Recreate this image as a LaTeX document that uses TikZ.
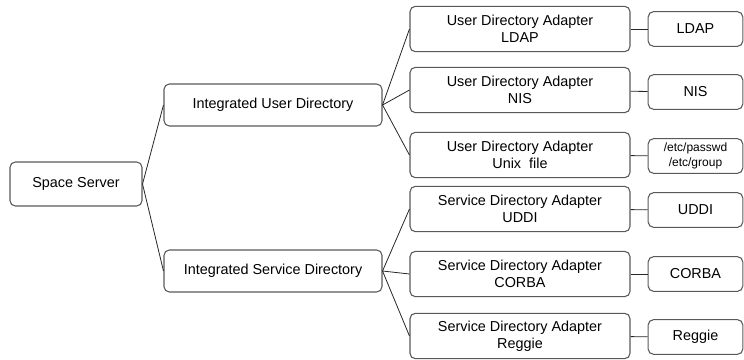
\documentclass[tikz,border=0pt]{standalone}
\usepackage{fontspec}
\setmainfont{Liberation Sans}
\begin{document}
\begin{tikzpicture}[
    x=0.75pt, y=-0.75pt,
    every node/.style={font=\fontsize{10.8}{13}\selectfont},
    rootbox/.style={draw=black!65, rounded corners=4pt, line width=0.8pt, minimum width=99pt, minimum height=33pt, align=center, inner sep=1pt},
    dirbox/.style={draw=black!65, rounded corners=4pt, line width=0.8pt, minimum width=163.5pt, minimum height=31.5pt, align=center, inner sep=1pt},
    adapterbox/.style={draw=black!65, rounded corners=4pt, line width=0.8pt, minimum width=165pt, minimum height=34pt, align=center, inner sep=1pt},
    sourcebox/.style={draw=black!65, rounded corners=4pt, line width=0.8pt, minimum width=71pt, minimum height=26pt, align=center, inner sep=1pt},
    link/.style={black!85, line width=0.6pt},
]
\useasboundingbox (0,0) rectangle (744,360);

% Root
\node[rootbox] (SS) at (76, 184) {Space Server};

% Directories
\node[dirbox] (IUD) at (273, 105) {Integrated User Directory};
\node[dirbox] (ISD) at (273, 271) {Integrated Service Directory};
\draw[link] (SS.east) -- (IUD.west);
\draw[link] (SS.east) -- (ISD.west);

% User directory adapters
\node[adapterbox] (UL) at (520, 29) {User Directory Adapter\\LDAP};
\node[adapterbox] (UN) at (520, 90) {User Directory Adapter\\NIS};
\node[adapterbox] (UU) at (520, 155) {User Directory Adapter\\Unix~~file};
\draw[link] (IUD.east) -- (UL.west);
\draw[link] (IUD.east) -- (UN.west);
\draw[link] (IUD.east) -- (UU.west);

% Service directory adapters
\node[adapterbox] (SU) at (520, 209) {Service Directory Adapter\\UDDI};
\node[adapterbox] (SC) at (520, 274) {Service Directory Adapter\\CORBA};
\node[adapterbox] (SR) at (520, 336) {Service Directory Adapter\\Reggie};
\draw[link] (ISD.east) -- (SU.west);
\draw[link] (ISD.east) -- (SC.west);
\draw[link] (ISD.east) -- (SR.west);

% Back ends
\node[sourcebox] (LDAP) at (695.5, 29) {LDAP};
\node[sourcebox] (NIS) at (695.5, 92) {NIS};
\node[sourcebox, font=\fontsize{9}{11}\selectfont] (ETC) at (695.5, 156) {/etc/passwd\\/etc/group};
\node[sourcebox] (UDDI) at (695.5, 210) {UDDI};
\node[sourcebox] (CORBA) at (695.5, 274) {CORBA};
\node[sourcebox] (REG) at (695.5, 337) {Reggie};
\draw[link] (UL) -- (LDAP);
\draw[link] (UN) -- (NIS);
\draw[link] (UU) -- (ETC);
\draw[link] (SU) -- (UDDI);
\draw[link] (SC) -- (CORBA);
\draw[link] (SR) -- (REG);
\end{tikzpicture}
\end{document}
